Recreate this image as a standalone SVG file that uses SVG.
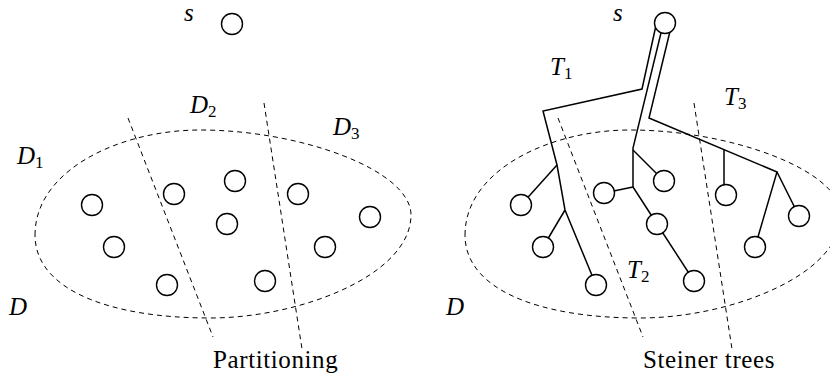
<svg xmlns="http://www.w3.org/2000/svg" width="830" height="374" viewBox="0 0 830 374">
<style>
.bg{fill:#fff}
.node{fill:#fff;stroke:#000;stroke-width:1.4}
.dash{fill:none;stroke:#000;stroke-width:1;stroke-dasharray:5,4}
.edge{fill:none;stroke:#000;stroke-width:1.5;stroke-linejoin:miter}
</style>
<defs>
<path id="region" d="M35,235 C35,170 120,130 200,130 C300,130 411,170 411,215 C411,275 300,318 210,318 C110,318 35,290 35,235 Z"/>
</defs>
<rect class="bg" x="0" y="0" width="830" height="374"/>

<g id="left-panel-boundaries">
<use href="#region" class="dash"/>
<line class="dash" x1="128" y1="118" x2="213" y2="337"/>
<line class="dash" x1="264" y1="103" x2="302" y2="349"/>
</g>
<g id="right-panel-boundaries">
<use href="#region" class="dash" transform="translate(430,0)"/>
<line class="dash" x1="558" y1="118" x2="643" y2="337"/>
<line class="dash" x1="694" y1="103" x2="732" y2="349"/>
</g>

<g id="connectors">
<polyline class="edge" points="656.5,23 642,89 543,111 557,165 565,210 596,285"/>
<line class="edge" x1="557" y1="165" x2="521" y2="205"/>
<line class="edge" x1="565" y1="210" x2="543" y2="247"/>
<polyline class="edge" points="663.4,23 633,148 633,187 657,224 694,281"/>
<line class="edge" x1="633" y1="150" x2="664" y2="181"/>
<line class="edge" x1="633" y1="187" x2="604" y2="193"/>
<polyline class="edge" points="672,23 649,118 777,172 755,247"/>
<line class="edge" x1="777" y1="172" x2="799" y2="216"/>
<line class="edge" x1="724" y1="150" x2="724" y2="195"/>
</g>

<g id="left-s"><circle class="node" cx="232" cy="24" r="10.5"/></g>
<g id="left-n1"><circle class="node" cx="92" cy="205" r="10.5"/></g>
<g id="left-n2"><circle class="node" cx="174" cy="194" r="10.5"/></g>
<g id="left-n3"><circle class="node" cx="235" cy="181" r="10.5"/></g>
<g id="left-n4"><circle class="node" cx="227" cy="224" r="10.5"/></g>
<g id="left-n5"><circle class="node" cx="298" cy="194" r="10.5"/></g>
<g id="left-n6"><circle class="node" cx="370" cy="217" r="10.5"/></g>
<g id="left-n7"><circle class="node" cx="114" cy="247" r="10.5"/></g>
<g id="left-n8"><circle class="node" cx="325" cy="247" r="10.5"/></g>
<g id="left-n9"><circle class="node" cx="167" cy="285" r="10.5"/></g>
<g id="left-n10"><circle class="node" cx="265" cy="281" r="10.5"/></g>

<g id="right-s"><circle class="node" cx="665" cy="23" r="10.5"/></g>
<g id="right-n1"><circle class="node" cx="521" cy="205" r="10.5"/></g>
<g id="right-n2"><circle class="node" cx="543" cy="247" r="10.5"/></g>
<g id="right-n3"><circle class="node" cx="596" cy="285" r="10.5"/></g>
<g id="right-n4"><circle class="node" cx="604" cy="193" r="10.5"/></g>
<g id="right-n5"><circle class="node" cx="664" cy="181" r="10.5"/></g>
<g id="right-n6"><circle class="node" cx="657" cy="224" r="10.5"/></g>
<g id="right-n7"><circle class="node" cx="694" cy="281" r="10.5"/></g>
<g id="right-n8"><circle class="node" cx="726" cy="195" r="10.5"/></g>
<g id="right-n9"><circle class="node" cx="755" cy="247" r="10.5"/></g>
<g id="right-n10"><circle class="node" cx="799" cy="216" r="10.5"/></g>

<g id="labels" font-family="Liberation Serif, serif" fill="#000">
<g font-style="italic" font-size="25">
<text x="184" y="21">s</text>
<text x="190" y="113">D<tspan font-style="normal" font-size="17" dy="4">2</tspan></text>
<text x="333" y="135">D<tspan font-style="normal" font-size="17" dy="4">3</tspan></text>
<text x="17" y="164">D<tspan font-style="normal" font-size="17" dy="4">1</tspan></text>
<text x="9" y="315">D</text>
<text x="613" y="21">s</text>
<text x="550" y="75">T<tspan font-style="normal" font-size="17" dy="4">1</tspan></text>
<text x="724" y="105">T<tspan font-style="normal" font-size="17" dy="4">3</tspan></text>
<text x="627" y="278">T<tspan font-style="normal" font-size="17" dy="4">2</tspan></text>
<text x="446" y="315">D</text>
</g>
<text x="213" y="368" font-size="25" letter-spacing="0.6">Partitioning</text>
<text x="643" y="368" font-size="25" letter-spacing="0.6">Steiner trees</text>
</g>
</svg>
